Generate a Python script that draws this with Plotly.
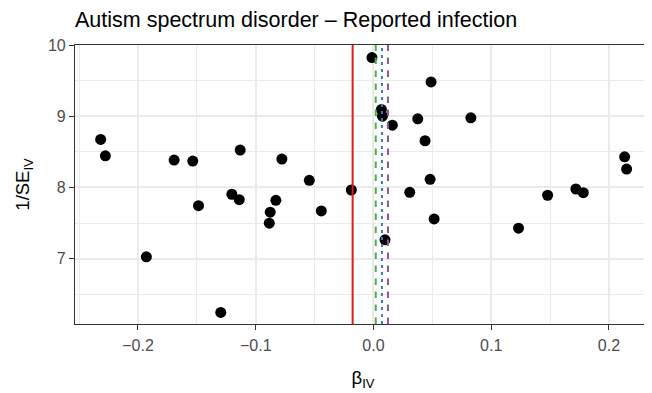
import plotly.graph_objects as go

# Data
beta_iv = [-0.2317, -0.2277, -0.1929, -0.1693, -0.1535, -0.1486, -0.1132, -0.1203,
           -0.1140, -0.1297, -0.0778, -0.0829, -0.0877, -0.0885, -0.0545, -0.0443,
           -0.0188, -0.0013, 0.0067, 0.0076, 0.0160, 0.0098, 0.0489, 0.0376,
           0.0827, 0.0438, 0.0481, 0.0308, 0.0515, 0.1232, 0.1479, 0.1719,
           0.1782, 0.2133, 0.2150]
inv_se = [8.675, 8.445, 7.027, 8.385, 8.371, 7.745, 8.525, 7.905,
          7.829, 6.247, 8.399, 7.820, 7.653, 7.499, 8.101, 7.671,
          7.965, 9.824, 9.095, 9.001, 8.875, 7.265, 9.482, 8.964,
          8.978, 8.656, 8.115, 7.933, 7.559, 7.429, 7.891, 7.979,
          7.927, 8.431, 8.259]

# Summary estimates (vertical lines)
line_x = [-0.0177, 0.0019, 0.0072, 0.0123]
line_colors = ["#E41A1C", "#4DAF4A", "#377EB8", "#984EA3"]
line_dash = ["solid", "6.5px,6.5px", "3px,4px", "6.5px,6.5px"]

x_ticks = [-0.2, -0.1, 0.0, 0.1, 0.2]
x_tick_labels = ["\u22120.2", "\u22120.1", "0.0", "0.1", "0.2"]
y_ticks = [7, 8, 9, 10]

FONT = "Liberation Sans, Arial, sans-serif"

# page body has an 8px margin, so the figure is sized to fit the 652x393 window
W, H = 644, 385

fig = go.Figure()
fig.add_trace(go.Scatter(
    x=beta_iv, y=inv_se, mode="markers",
    marker=dict(color="black", size=11, line=dict(width=0)),
    showlegend=False, hoverinfo="x+y"))

for xv, c, d in zip(line_x, line_colors, line_dash):
    fig.add_vline(x=xv, line=dict(color=c, width=2, dash=d), layer="above")

fig.update_layout(
    width=W, height=H,
    margin=dict(l=67, r=1, t=37, b=69),
    paper_bgcolor="white", plot_bgcolor="white",
    font=dict(family=FONT, color="black"),
    title=dict(text="Autism spectrum disorder \u2013 Reported infection",
               x=67 / W, xref="container", xanchor="left",
               y=1 - 11.5 / H, yref="container", yanchor="middle",
               font=dict(size=21.5, color="black", family=FONT)),
    showlegend=False,
)

fig.update_xaxes(
    range=[-0.2535, 0.2357], tickvals=x_ticks, ticktext=x_tick_labels,
    showgrid=True, gridcolor="#EBEBEB", gridwidth=1.5, zeroline=False,
    minor=dict(dtick=0.05, tick0=0, showgrid=True, gridcolor="#EBEBEB", gridwidth=0.8, ticks=""),
    showline=True, mirror=True, linecolor="#333333", linewidth=1.2,
    ticks="outside", ticklen=5, tickcolor="#333333", tickwidth=1.2,
    ticklabelstandoff=2,
    tickfont=dict(size=16, color="#4D4D4D", family=FONT),
    title=dict(text="\u03b2<sub>IV</sub>", font=dict(size=18.5, color="black", family=FONT), standoff=17),
    automargin=False,
)
fig.update_yaxes(
    range=[6.084, 10.0], tickvals=y_ticks,
    showgrid=True, gridcolor="#EBEBEB", gridwidth=1.5, zeroline=False,
    minor=dict(dtick=0.5, tick0=0, showgrid=True, gridcolor="#EBEBEB", gridwidth=0.8, ticks=""),
    showline=True, mirror=True, linecolor="#333333", linewidth=1.2,
    ticks="outside", ticklen=5, tickcolor="#333333", tickwidth=1.2,
    tickfont=dict(size=16, color="#4D4D4D", family=FONT),
    title=dict(text="1/SE<sub>IV</sub>", font=dict(size=18.5, color="black", family=FONT), standoff=13),
    automargin=False,
)

fig.write_html("out.html")
